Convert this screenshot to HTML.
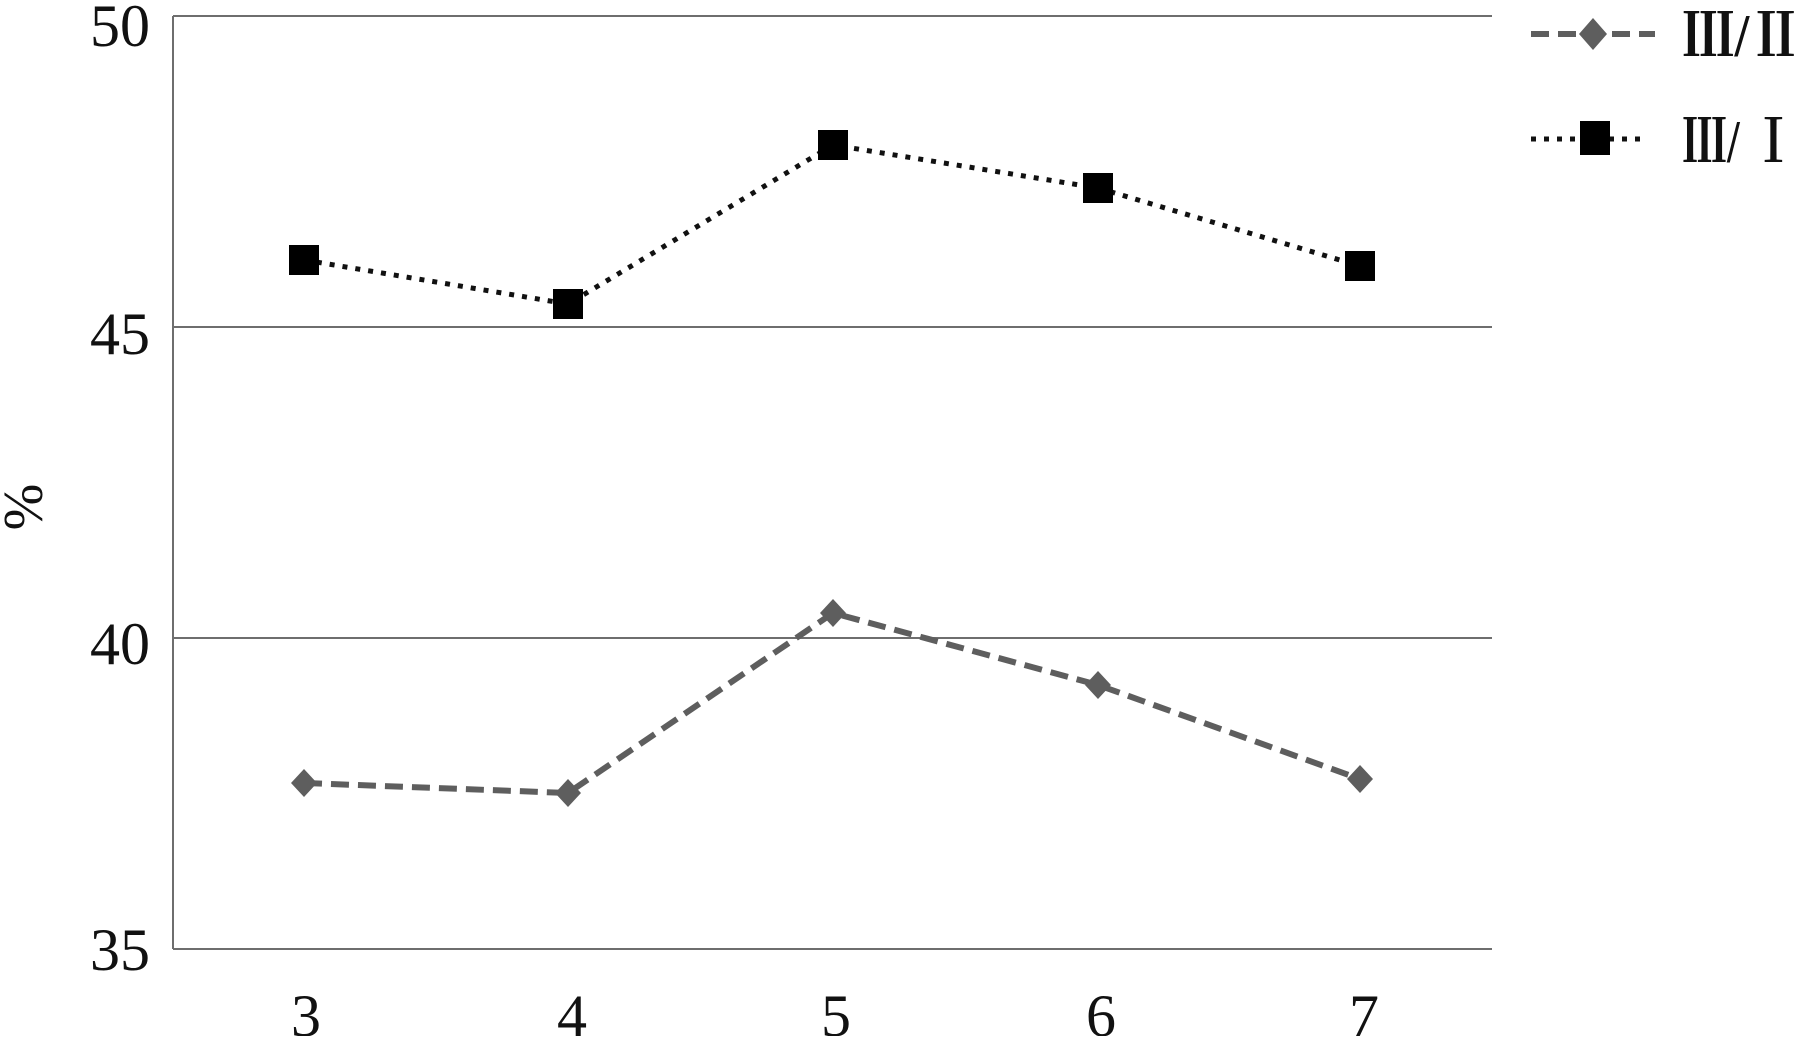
<!DOCTYPE html>
<html><head><meta charset="utf-8"><style>body{margin:0;background:#fff}</style></head>
<body>
<svg width="1806" height="1036" xmlns="http://www.w3.org/2000/svg" font-family="'Liberation Serif','Noto Serif CJK SC',serif">
<g stroke="#6e6e6e" stroke-width="2" fill="none">
<line x1="173" y1="16" x2="1492" y2="16"/>
<line x1="173" y1="327" x2="1492" y2="327"/>
<line x1="173" y1="638" x2="1492" y2="638"/>
<line x1="173" y1="949" x2="1492" y2="949"/>
<line x1="173" y1="16" x2="173" y2="949"/>
</g>
<g font-size="60" fill="#111" text-anchor="end">
<text x="150" y="46">50</text>
<text x="150" y="354">45</text>
<text x="150" y="664">40</text>
<text x="150" y="970">35</text>
</g>
<g font-size="60" fill="#111" text-anchor="middle">
<text x="306" y="1036">3</text>
<text x="572" y="1036">4</text>
<text x="836" y="1036">5</text>
<text x="1101" y="1036">6</text>
<text x="1364" y="1036">7</text>
</g>
<text transform="translate(42,507) rotate(-90)" font-size="56" fill="#111" text-anchor="middle">%</text>
<polyline points="304,783 568,793 833,613 1098,685 1360,779" fill="none" stroke="#5e5e5e" stroke-width="6" stroke-dasharray="18,9"/>
<g fill="#5e5e5e">
<polygon points="304,769 317,783 304,797 291,783"/>
<polygon points="568,779 581,793 568,807 555,793"/>
<polygon points="833,599 846,613 833,627 820,613"/>
<polygon points="1098,671 1111,685 1098,699 1085,685"/>
<polygon points="1360,765 1373,779 1360,793 1347,779"/>
</g>
<polyline points="304,260 568,304 833,145 1098,188 1360,266" fill="none" stroke="#111" stroke-width="5" stroke-dasharray="5,8"/>
<g fill="#000">
<rect x="289" y="245" width="30" height="30"/>
<rect x="553" y="289" width="30" height="30"/>
<rect x="818" y="130" width="30" height="30"/>
<rect x="1083" y="173" width="30" height="30"/>
<rect x="1345" y="251" width="30" height="30"/>
</g>
<line x1="1531" y1="34" x2="1655" y2="34" stroke="#5e5e5e" stroke-width="6" stroke-dasharray="18,9"/>
<polygon points="1593,18 1607,34 1593,50 1579,34" fill="#5e5e5e"/>
<line x1="1531" y1="139" x2="1645" y2="139" stroke="#111" stroke-width="5" stroke-dasharray="5,8"/>
<rect x="1580" y="121" width="30" height="34" fill="#000"/>
<g font-size="60" fill="#111" font-weight="bold">
<text x="1682" y="56" textLength="120" lengthAdjust="spacingAndGlyphs">Ⅲ/Ⅱ</text>
<text x="1682" y="162" textLength="114" lengthAdjust="spacingAndGlyphs">Ⅲ/ Ⅰ</text>
</g>
</svg>
</body></html>
